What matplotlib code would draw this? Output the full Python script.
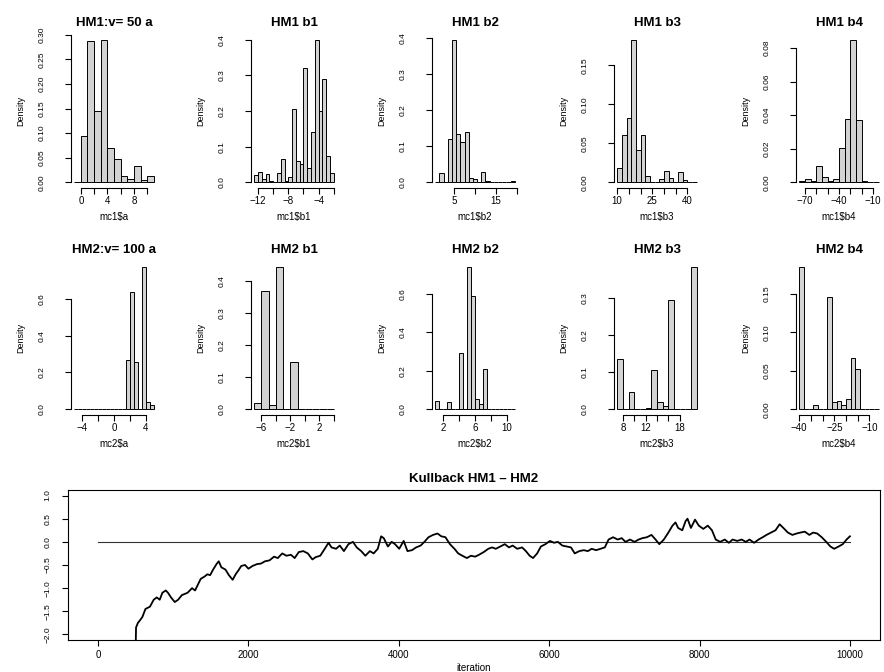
import numpy as np
import matplotlib
matplotlib.use("Agg")
import matplotlib.pyplot as plt

plt.rcParams['font.family'] = ['Liberation Sans', 'DejaVu Sans']

W, H = 884, 672

# ---------------- data ----------------
titles = ["HM1:v= 50 a", "HM1 b1", "HM1 b2", "HM1 b3", "HM1 b4",
          "HM2:v= 100 a", "HM2 b1", "HM2 b2", "HM2 b3", "HM2 b4"]
xlabels = ["mc1$a", "mc1$b1", "mc1$b2", "mc1$b3", "mc1$b4",
           "mc2$a", "mc2$b1", "mc2$b2", "mc2$b3", "mc2$b4"]

# histogram bins: first break, bin width, densities
bin_start = [-1.0, -12.5, 0.5, 10.0, -75.0,
             -5.0, -7.0, 1.0, 7.0, -40.0]
bin_width = [1.0, 0.5, 1.0, 2.0, 5.0,
             0.5, 1.0, 0.5, 1.0, 2.0]

dens_hm1_a = [0.0, 0.095, 0.287, 0.145, 0.290, 0.070, 0.047, 0.013, 0.006, 0.034, 0.004, 0.013]
dens_hm1_b1 = [0.020, 0.028, 0.008, 0.022, 0.005, 0.0, 0.026, 0.065, 0.005, 0.015, 0.207,
               0.060, 0.050, 0.320, 0.040, 0.140, 0.400, 0.200, 0.290, 0.073, 0.027]
dens_hm1_b2 = [0.002, 0.025, 0.0, 0.120, 0.395, 0.133, 0.113, 0.140, 0.013, 0.010, 0.0,
               0.028, 0.004, 0.0, 0.0, 0.001, 0.002, 0.001, 0.004]
dens_hm1_b3 = [0.018, 0.061, 0.083, 0.183, 0.042, 0.061, 0.008, 0.0, 0.0, 0.004, 0.014,
               0.006, 0.001, 0.013, 0.003, 0.0, 0.0]
dens_hm1_b4 = [0.001, 0.002, 0.001, 0.0095, 0.003, 0.001, 0.002, 0.0205, 0.038, 0.085,
               0.037, 0.0005, 0.0, 0.0]
dens_hm2_a = [0.002, 0.0, 0.0, 0.0, 0.0, 0.0, 0.004, 0.0, 0.002, 0.0, 0.003, 0.0, 0.0,
              0.270, 0.640, 0.255, 0.0, 0.775, 0.040, 0.025]
dens_hm2_b1 = [0.020, 0.370, 0.013, 0.445, 0.0, 0.147, 0.002, 0.0, 0.0, 0.0, 0.002]
dens_hm2_b2 = [0.045, 0.0, 0.003, 0.040, 0.0, 0.0, 0.290, 0.0, 0.740, 0.590, 0.055, 0.025,
               0.210, 0.0, 0.002, 0.0, 0.0, 0.0, 0.0, 0.002]
dens_hm2_b3 = [0.135, 0.002, 0.048, 0.002, 0.0, 0.003, 0.105, 0.020, 0.010, 0.295, 0.0,
               0.0, 0.0, 0.385]
dens_hm2_b4 = [0.185, 0.0, 0.0, 0.006, 0.0, 0.001, 0.146, 0.010, 0.011, 0.005, 0.013,
               0.066, 0.052, 0.0, 0.001, 0.0005, 0.0]

densities = [dens_hm1_a, dens_hm1_b1, dens_hm1_b2, dens_hm1_b3, dens_hm1_b4,
             dens_hm2_a, dens_hm2_b1, dens_hm2_b2, dens_hm2_b3, dens_hm2_b4]

x_ticks = [[0, 2, 4, 6, 8, 10], [-12, -10, -8, -6, -4, -2], [5, 10, 15, 20],
           [10, 15, 20, 25, 30, 35, 40], [-70, -60, -50, -40, -30, -20, -10],
           [-4, -2, 0, 2, 4], [-6, -4, -2, 0, 2, 4], [2, 4, 6, 8, 10],
           [8, 10, 12, 14, 16, 18], [-40, -35, -30, -25, -20, -15, -10]]
x_ticklabels = [["0", "", "4", "", "8", ""], ["\u221212", "", "\u22128", "", "\u22124", ""],
                ["5", "", "15", ""], ["10", "", "", "25", "", "", "40"],
                ["\u221270", "", "", "\u221240", "", "", "\u221210"],
                ["\u22124", "", "0", "", "4"], ["\u22126", "", "\u22122", "", "2", ""],
                ["2", "", "6", "", "10"], ["8", "", "12", "", "", "18"],
                ["\u221240", "", "", "\u221225", "", "", "\u221210"]]
y_ticks = [[0.00, 0.05, 0.10, 0.15, 0.20, 0.25, 0.30], [0.0, 0.1, 0.2, 0.3, 0.4],
           [0.0, 0.1, 0.2, 0.3, 0.4], [0.00, 0.05, 0.10, 0.15],
           [0.00, 0.02, 0.04, 0.06, 0.08], [0.0, 0.2, 0.4, 0.6],
           [0.0, 0.1, 0.2, 0.3, 0.4], [0.0, 0.2, 0.4, 0.6],
           [0.0, 0.1, 0.2, 0.3], [0.00, 0.05, 0.10, 0.15]]
y_fmt = ["%.2f", "%.1f", "%.1f", "%.2f", "%.2f", "%.1f", "%.1f", "%.1f", "%.1f", "%.2f"]

# Kullback trace
kl_iter = [500, 505, 530, 555, 590, 630, 690, 740, 780, 820,
           855, 900, 930, 970, 1020, 1065, 1115, 1190, 1250, 1290,
           1320, 1365, 1415, 1455, 1490, 1530, 1575, 1605, 1640, 1695,
           1740, 1790, 1830, 1865, 1905, 1955, 2000, 2055, 2115, 2165,
           2220, 2280, 2340, 2390, 2450, 2505, 2565, 2615, 2670, 2730,
           2790, 2850, 2895, 2955, 3015, 3065, 3105, 3165, 3215, 3270,
           3330, 3390, 3440, 3500, 3555, 3615, 3665, 3720, 3765, 3800,
           3855, 3905, 3950, 4005, 4065, 4115, 4175, 4230, 4290, 4340,
           4395, 4455, 4515, 4565, 4620, 4680, 4740, 4790, 4845, 4905,
           4960, 5015, 5065, 5130, 5190, 5240, 5290, 5350, 5410, 5465,
           5515, 5575, 5640, 5690, 5740, 5785, 5840, 5890, 5950, 6010,
           6065, 6115, 6175, 6235, 6290, 6340, 6400, 6460, 6515, 6565,
           6625, 6685, 6740, 6790, 6850, 6910, 6965, 7015, 7075, 7135,
           7190, 7240, 7300, 7360, 7415, 7465, 7525, 7585, 7640, 7680,
           7715, 7770, 7815, 7840, 7885, 7940, 7990, 8050, 8110, 8165,
           8215, 8275, 8335, 8390, 8440, 8500, 8560, 8615, 8665, 8725,
           8785, 8840, 8890, 8950, 9010, 9065, 9115, 9175, 9235, 9290,
           9340, 9400, 9460, 9510, 9565, 9625, 9685, 9740, 9790, 9850,
           9905, 9955, 10000]
kl_value = [-2.30, -1.85, -1.75, -1.70, -1.62, -1.45, -1.40, -1.25, -1.20, -1.25,
            -1.10, -1.05, -1.10, -1.20, -1.30, -1.25, -1.15, -1.10, -1.00, -1.05,
            -0.95, -0.80, -0.75, -0.70, -0.72, -0.60, -0.48, -0.42, -0.55, -0.60,
            -0.72, -0.82, -0.70, -0.62, -0.52, -0.50, -0.58, -0.52, -0.48, -0.47,
            -0.42, -0.40, -0.32, -0.35, -0.25, -0.30, -0.28, -0.35, -0.22, -0.20,
            -0.25, -0.38, -0.33, -0.30, -0.15, -0.02, -0.12, -0.15, -0.08, -0.20,
            -0.05, 0.00, -0.12, -0.20, -0.30, -0.20, -0.25, -0.15, 0.12, 0.08,
            -0.10, 0.00, -0.05, -0.15, 0.02, -0.20, -0.18, -0.12, -0.08, 0.00,
            0.10, 0.15, 0.18, 0.12, 0.10, -0.05, -0.15, -0.25, -0.30, -0.35,
            -0.30, -0.32, -0.28, -0.22, -0.15, -0.12, -0.15, -0.10, -0.05, -0.12,
            -0.08, -0.15, -0.12, -0.20, -0.30, -0.35, -0.25, -0.10, -0.05, 0.02,
            -0.02, 0.00, -0.08, -0.10, -0.12, -0.25, -0.20, -0.18, -0.20, -0.15,
            -0.18, -0.15, -0.12, 0.05, 0.10, 0.05, 0.08, 0.00, 0.05, 0.00,
            0.05, 0.08, 0.10, 0.15, 0.05, -0.05, 0.05, 0.20, 0.35, 0.42,
            0.30, 0.25, 0.45, 0.50, 0.30, 0.48, 0.35, 0.28, 0.35, 0.25,
            0.05, 0.00, 0.05, -0.02, 0.05, 0.02, 0.05, 0.00, 0.05, -0.02,
            0.05, 0.10, 0.15, 0.20, 0.25, 0.38, 0.30, 0.20, 0.15, 0.18,
            0.20, 0.22, 0.15, 0.20, 0.18, 0.10, 0.00, -0.10, -0.15, -0.10,
            -0.05, 0.05, 0.12]
kl_xticks = [0, 2000, 4000, 6000, 8000, 10000]
kl_yticks = [-2.0, -1.5, -1.0, -0.5, 0.0, 0.5, 1.0]

# ---------------- layout ----------------
fig = plt.figure(figsize=(W / 100, H / 100), dpi=100)

col_left = [71, 251, 432, 614, 796]
row_top = [34, 261]
pw, ph = 86, 154

TICK_FS = 7
YTICK_FS = 6
TITLE_FS = 9.5
YLAB_FS = 6.5


def rect(left, top, width, height):
    return [left / W, 1 - (top + height) / H, width / W, height / H]


for i in range(10):
    r, c = divmod(i, 5)
    ax = fig.add_axes(rect(col_left[c], row_top[r], pw, ph))
    d = np.asarray(densities[i])
    edges = bin_start[i] + bin_width[i] * np.arange(len(d) + 1)
    ax.bar(edges[:-1], d, width=bin_width[i], align='edge',
           color='#d3d3d3', edgecolor='black', linewidth=0.7)
    lo, hi = edges[0], edges[-1]
    span = hi - lo
    ax.set_xlim(lo - 0.04 * span, hi + 0.04 * span)
    top = d.max()
    ax.set_ylim(-0.04 * top, 1.04 * top)
    ax.set_xticks(x_ticks[i])
    ax.set_xticklabels(x_ticklabels[i], fontsize=TICK_FS)
    ax.set_yticks(y_ticks[i])
    ax.set_yticklabels([y_fmt[i] % v for v in y_ticks[i]], rotation=90,
                       va='center', fontsize=YTICK_FS)
    for s in ['top', 'right']:
        ax.spines[s].set_visible(False)
    ax.spines['bottom'].set_bounds(x_ticks[i][0], x_ticks[i][-1])
    ax.spines['left'].set_bounds(y_ticks[i][0], y_ticks[i][-1])
    for s in ['bottom', 'left']:
        ax.spines[s].set_linewidth(0.8)
    ax.tick_params(axis='x', direction='out', length=4, width=0.8, pad=1.5)
    ax.tick_params(axis='y', direction='out', length=4, width=0.8, pad=14)
    ax.set_title(titles[i], fontsize=TITLE_FS, fontweight='bold', pad=6)
    ax.set_xlabel(xlabels[i], fontsize=TICK_FS)
    ax.xaxis.set_label_coords(0.5, -24 / ph)
    ax.set_ylabel("Density", fontsize=YLAB_FS)
    ax.yaxis.set_label_coords(-46 / pw, 0.5)

# bottom trace panel
axk = fig.add_axes(rect(68, 490, 812, 150))
axk.plot([0, 10000], [0, 0], color='#333333', linewidth=0.8)
axk.plot(kl_iter, kl_value, color='black', linewidth=1.3)
axk.set_xlim(-400, 10400)
axk.set_ylim(-2.12, 1.12)
axk.set_xticks(kl_xticks)
axk.set_xticklabels([str(v) for v in kl_xticks], fontsize=TICK_FS)
axk.set_yticks(kl_yticks)
axk.set_yticklabels([("%.1f" % v).replace("-", "\u2212") for v in kl_yticks],
                    rotation=90, va='center', fontsize=YTICK_FS)
for s in axk.spines.values():
    s.set_linewidth(0.8)
axk.tick_params(axis='x', direction='out', length=4, width=0.8, pad=3)
axk.tick_params(axis='y', direction='out', length=4, width=0.8, pad=8)
axk.set_title("Kullback HM1 \u2013 HM2", fontsize=TITLE_FS, fontweight='bold', pad=6)
axk.set_xlabel("iteration", fontsize=TICK_FS)
axk.xaxis.set_label_coords(0.5, -23 / 150)

fig.savefig("out.png", dpi=100)
